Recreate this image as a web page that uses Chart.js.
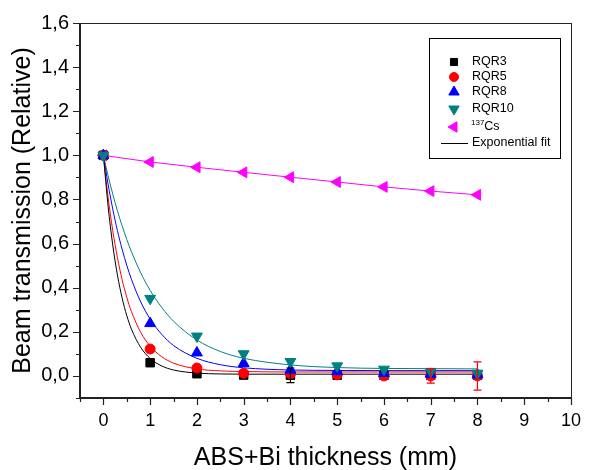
<!DOCTYPE html>
<html>
<head>
<meta charset="utf-8">
<script src="https://cdn.jsdelivr.net/npm/chart.js@4/dist/chart.umd.min.js"></script>
<style>
html,body{margin:0;padding:0;background:#fff;}
#wrap{width:601px;height:470px;position:relative;}
</style>
</head>
<body>
<div id="wrap"><canvas id="c" width="601" height="470"></canvas></div>
<script>
// ---- data ----
const thickness = [0, 1, 2, 3, 4, 5, 6, 7, 8];
const rqr3  = [1.0, 0.060, 0.010, 0.004, 0.003, 0.003, 0.003, 0.003, 0.003];
const rqr5  = [1.0, 0.122, 0.036, 0.012, 0.010, 0.005, 0.000, 0.000, 0.000];
const rqr8  = [1.0, 0.238, 0.105, 0.057, 0.027, 0.020, 0.012, 0.008, 0.005];
const rqr10 = [1.0, 0.351, 0.180, 0.100, 0.065, 0.045, 0.030, 0.020, 0.012];
const cs137 = [1.0, 0.970, 0.946, 0.923, 0.901, 0.879, 0.857, 0.838, 0.821];

// error bars (half-widths)
const rqr3Err = [0, 0, 0, 0, 0.033, 0, 0, 0, 0];
const rqr5Err = [0, 0, 0, 0, 0, 0, 0, 0.033, 0.064];

// exponential fit curves
const fitX     = [0, 0.1, 0.2, 0.3, 0.4, 0.5, 0.6, 0.8, 1.0, 1.25, 1.5, 2, 2.5, 3, 4, 5, 6, 7, 8];
const fitRqr3  = [1, 0.771, 0.594, 0.458, 0.354, 0.274, 0.212, 0.129, 0.079, 0.045, 0.027, 0.013, 0.009, 0.008, 0.008, 0.008, 0.008, 0.008, 0.008];
const fitRqr5  = [1, 0.812, 0.659, 0.537, 0.437, 0.357, 0.292, 0.197, 0.135, 0.087, 0.058, 0.032, 0.023, 0.020, 0.018, 0.018, 0.018, 0.018, 0.018];
const fitRqr8  = [1, 0.870, 0.757, 0.659, 0.575, 0.502, 0.438, 0.335, 0.258, 0.188, 0.138, 0.080, 0.051, 0.037, 0.027, 0.025, 0.024, 0.024, 0.024];
const fitRqr10 = [1, 0.908, 0.825, 0.749, 0.681, 0.619, 0.563, 0.467, 0.388, 0.310, 0.248, 0.163, 0.111, 0.080, 0.050, 0.038, 0.034, 0.033, 0.032];

const xTicks = [0, 1, 2, 3, 4, 5, 6, 7, 8, 9, 10];
const yTicks = [0.0, 0.2, 0.4, 0.6, 0.8, 1.0, 1.2, 1.4, 1.6];

const seriesNames = ['RQR3', 'RQR5', 'RQR8', 'RQR10', 'Cs', 'Exponential fit'];

const C3 = '#000000', C5 = '#ff0000', C8 = '#0000ff', C10 = '#008080', CCS = '#ff00ff';

const pts = (xs, ys) => xs.map((x, i) => ({x: x, y: ys[i]}));

function fitDs(ys, color) {
  return {
    data: pts(fitX, ys), borderColor: color, borderWidth: 1, pointRadius: 0,
    showLine: true, cubicInterpolationMode: 'monotone', order: 10
  };
}
function markDs(ys, color, style, rot, r) {
  return {
    data: pts(thickness, ys), borderColor: color, backgroundColor: color,
    pointStyle: style, rotation: rot, pointRadius: r, pointBorderWidth: 1,
    showLine: false, order: 5
  };
}

const datasets = [
  fitDs(fitRqr3, C3), fitDs(fitRqr5, C5), fitDs(fitRqr8, C8), fitDs(fitRqr10, C10),
  {data: pts(thickness, cs137), borderColor: CCS, borderWidth: 1, pointRadius: 0, showLine: true, order: 10},
  markDs(rqr10, C10, 'triangle', 180, 6.3),
  markDs(rqr8, C8, 'triangle', 0, 6.3),
  markDs(rqr5, C5, 'circle', 0, 5),
  markDs(rqr3, C3, 'rect', 0, 6),
  markDs(cs137, CCS, 'triangle', 270, 6.3)
];

const errInfo = [
  {vals: rqr3, err: rqr3Err, color: C3},
  {vals: rqr5, err: rqr5Err, color: C5}
];

const decor = {
  id: 'decor',
  afterDatasetsDraw(chart) {
    const ctx = chart.ctx, xs = chart.scales.x, ys = chart.scales.y;
    // error bars
    ctx.save();
    ctx.lineWidth = 1.2;
    errInfo.forEach(s => {
      ctx.strokeStyle = s.color;
      thickness.forEach((t, i) => {
        const e = s.err[i];
        if (!e) return;
        const px = xs.getPixelForValue(t);
        const y1 = ys.getPixelForValue(s.vals[i] + e), y2 = ys.getPixelForValue(s.vals[i] - e);
        ctx.beginPath();
        ctx.moveTo(px, y1); ctx.lineTo(px, y2);
        ctx.moveTo(px - 4, y1); ctx.lineTo(px + 4, y1);
        ctx.moveTo(px - 4, y2); ctx.lineTo(px + 4, y2);
        ctx.stroke();
      });
    });
    ctx.restore();
  },
  afterDraw(chart) {
    const ctx = chart.ctx, a = chart.chartArea, xs = chart.scales.x, ys = chart.scales.y;
    ctx.save();
    // frame
    ctx.strokeStyle = '#222';
    ctx.lineWidth = 1;
    ctx.strokeRect(a.left + 0.5, a.top + 0.5, a.right - a.left, a.bottom - a.top);
    ctx.lineWidth = 2;
    ctx.beginPath();
    ctx.moveTo(a.left, a.top); ctx.lineTo(a.left, a.bottom); ctx.lineTo(a.right + 1, a.bottom);
    ctx.stroke();
    // ticks
    ctx.lineWidth = 1.2;
    ctx.beginPath();
    for (let v = -0.1; v <= 1.6001; v += 0.1) {
      const major = Math.abs(Math.round(v * 10) % 2) === 0;
      const py = Math.round(ys.getPixelForValue(v)) + 0.5;
      ctx.moveTo(a.left, py); ctx.lineTo(a.left - (major ? 7 : 4), py);
    }
    for (let v = -0.5; v <= 10.0001; v += 0.5) {
      const major = Math.abs(v - Math.round(v)) < 1e-6;
      const px = Math.round(xs.getPixelForValue(v)) + 0.5;
      ctx.moveTo(px, a.bottom); ctx.lineTo(px, a.bottom + (major ? 7 : 4));
    }
    ctx.stroke();

    // legend
    const L = 429, T = 38, R = 560, B = 158;
    ctx.lineWidth = 1;
    ctx.strokeStyle = '#000';
    ctx.strokeRect(L + 0.5, T + 0.5, R - L, B - T);
    const rowsY = [62, 77, 92, 109, 127, 143];
    const symX = 454, txtX = 472;
    const sym = [
      {c: C3, s: 'rect', r: 5, rot: 0},
      {c: C5, s: 'circle', r: 4.5, rot: 0},
      {c: C8, s: 'triangle', r: 6, rot: 0},
      {c: C10, s: 'triangle', r: 6, rot: 180},
      {c: CCS, s: 'triangle', r: 6, rot: 270}
    ];
    sym.forEach((o, i) => {
      ctx.fillStyle = o.c; ctx.strokeStyle = o.c;
      Chart.helpers.drawPoint(ctx, {pointStyle: o.s, radius: o.r, rotation: o.rot, borderWidth: 1}, symX, rowsY[i]);
    });
    ctx.strokeStyle = '#000';
    ctx.beginPath(); ctx.moveTo(441, rowsY[5] + 0.5); ctx.lineTo(468, rowsY[5] + 0.5); ctx.stroke();
    ctx.fillStyle = '#000';
    ctx.textBaseline = 'middle';
    ctx.textAlign = 'left';
    const LF = '12.5px "Liberation Sans", Arial, sans-serif';
    ctx.font = LF;
    [0, 1, 2, 3].forEach(i => ctx.fillText(seriesNames[i], txtX, rowsY[i]));
    ctx.font = '8px "Liberation Sans", Arial, sans-serif';
    ctx.fillText('137', txtX - 1, rowsY[4] - 4);
    const w = ctx.measureText('137').width;
    ctx.font = LF;
    ctx.fillText(seriesNames[4], txtX - 1 + w, rowsY[4]);
    ctx.fillText(seriesNames[5], txtX, rowsY[5]);
    ctx.restore();
  }
};

const FONT = '"Liberation Sans", Arial, sans-serif';
new Chart(document.getElementById('c'), {
  type: 'scatter',
  data: {datasets: datasets},
  plugins: [decor],
  options: {
    responsive: false,
    animation: false,
    layout: {padding: {left: 0, top: 22, right: 30, bottom: 0}},
    plugins: {legend: {display: false}, tooltip: {enabled: false}},
    scales: {
      x: {
        type: 'linear', min: -0.5, max: 10,
        afterBuildTicks: s => { s.ticks = xTicks.map(v => ({value: v})); },
        grid: {display: false, drawTicks: false},
        border: {display: false},
        ticks: {color: '#000', font: {size: 18, family: FONT}, padding: 12,
                callback: v => String(v), maxRotation: 0, autoSkip: false},
        title: {display: true, text: 'ABS+Bi thickness (mm)', color: '#000',
                font: {size: 25, family: FONT}, padding: {top: 0, bottom: -3}},
        afterFit: s => { s.height = 72; }
      },
      y: {
        type: 'linear', min: -0.1, max: 1.6,
        afterBuildTicks: s => { s.ticks = yTicks.map(v => ({value: v})); },
        grid: {display: false, drawTicks: false},
        border: {display: false},
        ticks: {color: '#000', font: {size: 20, family: FONT}, padding: 11,
                callback: v => v.toFixed(1).replace('.', ','), autoSkip: false},
        title: {display: true, text: 'Beam transmission (Relative)', color: '#000',
                font: {size: 25, family: FONT}, padding: {top: 8, bottom: 0}},
        afterFit: s => { s.width = 80; }
      }
    }
  }
});
</script>
</body>
</html>
